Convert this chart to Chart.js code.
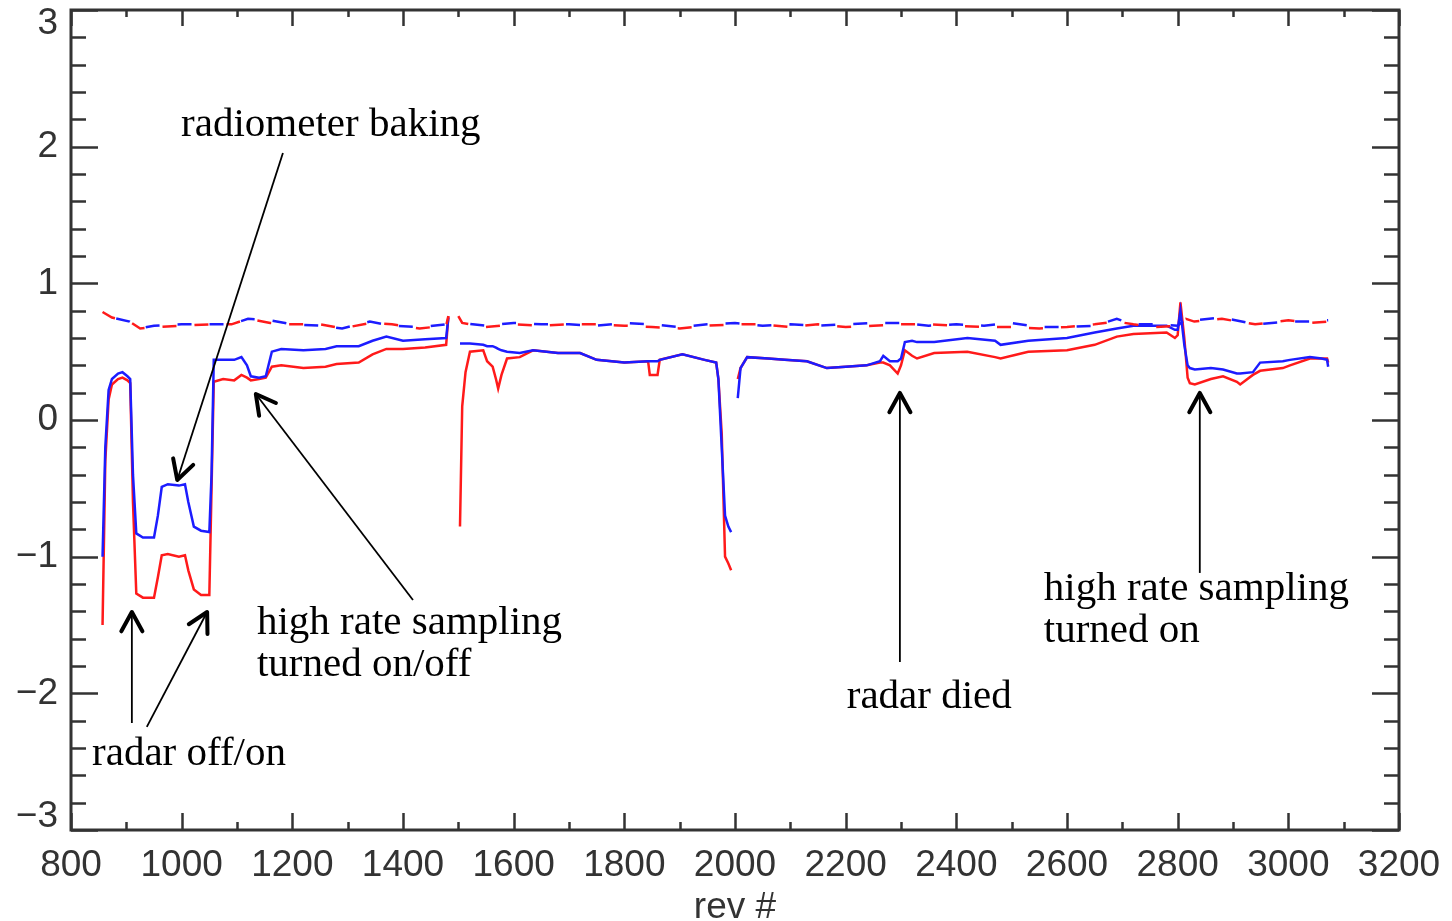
<!DOCTYPE html>
<html>
<head>
<meta charset="utf-8">
<script src="https://cdn.jsdelivr.net/npm/chart.js@4"></script>
<style>
  html, body { margin: 0; padding: 0; background: #fff; }
  #wrap { width: 1452px; height: 921px; }
</style>
</head>
<body>
<div id="wrap"><canvas id="grafico" width="1452" height="921"></canvas></div>
<script>
// lower (solid) curves, blue and red share the rev grid; null = data gap
var lowRev  = [857, 862, 868, 874, 885, 893, 902, 907, 912, 918, 930, 950, 957, 964, 975, 995, 1006, 1012, 1022, 1035, 1050, 1054, 1058, 1075, 1095, 1108, 1118, 1125, 1140, 1152, 1163, 1180, 1220, 1260, 1280, 1320, 1345, 1370, 1400, 1440, 1478, 1482,
               1490,
               1503, 1507, 1513, 1521, 1545, 1552, 1562, 1568, 1572, 1578, 1588, 1611, 1635, 1680, 1720, 1750, 1800, 1843, 1846, 1860, 1864, 1905, 1945, 1966, 1970, 1976, 1982, 1988, 1993,
               1997,
               2005, 2010, 2022, 2060, 2090, 2130, 2166, 2200, 2238, 2262, 2268, 2280, 2294, 2300, 2307, 2320, 2329, 2360, 2420, 2470, 2480, 2530, 2600, 2650, 2690, 2720, 2780, 2795, 2800, 2805, 2812, 2818, 2822, 2831, 2860, 2882, 2907, 2913, 2936, 2949, 2990, 3003, 3039, 3060, 3070, 3072];
var lowBlue = [-1.00, -0.20, 0.22, 0.30, 0.34, 0.35, 0.32, 0.30, -0.40, -0.83, -0.86, -0.86, -0.70, -0.49, -0.47, -0.48, -0.47, -0.60, -0.78, -0.81, -0.82, -0.40, 0.44, 0.44, 0.44, 0.46, 0.40, 0.32, 0.31, 0.32, 0.50, 0.52, 0.51, 0.52, 0.54, 0.54, 0.58, 0.61, 0.58, 0.59, 0.60, 0.75,
               null,
               0.56, 0.56, 0.56, 0.56, 0.55, 0.54, 0.54, 0.53, 0.52, 0.51, 0.50, 0.49, 0.51, 0.49, 0.49, 0.44, 0.42, 0.43, 0.43, 0.43, 0.44, 0.48, 0.44, 0.42, 0.30, -0.20, -0.70, -0.78, -0.82,
               null,
               0.16, 0.38, 0.46, 0.45, 0.44, 0.43, 0.38, 0.39, 0.40, 0.43, 0.47, 0.43, 0.43, 0.45, 0.57, 0.58, 0.57, 0.57, 0.60, 0.58, 0.55, 0.58, 0.60, 0.64, 0.67, 0.69, 0.69, 0.66, 0.66, 0.80, 0.55, 0.40, 0.38, 0.37, 0.38, 0.37, 0.34, 0.34, 0.35, 0.42, 0.43, 0.44, 0.46, 0.45, 0.44, 0.39];
var lowRed  = [-1.50, -0.30, 0.15, 0.26, 0.30, 0.31, 0.29, 0.27, -0.60, -1.27, -1.30, -1.30, -1.15, -0.99, -0.98, -1.00, -0.99, -1.10, -1.24, -1.28, -1.28, -0.50, 0.28, 0.30, 0.29, 0.33, 0.31, 0.29, 0.30, 0.31, 0.39, 0.40, 0.38, 0.39, 0.41, 0.42, 0.48, 0.52, 0.52, 0.53, 0.55, 0.76,
               null,
               -0.78, 0.10, 0.35, 0.50, 0.51, 0.43, 0.39, 0.30, 0.23, 0.33, 0.45, 0.46, 0.51, 0.49, 0.49, 0.44, 0.42, 0.43, 0.33, 0.33, 0.44, 0.48, 0.44, 0.42, 0.30, -0.10, -1.00, -1.05, -1.10,
               null,
               0.30, 0.38, 0.46, 0.45, 0.44, 0.43, 0.38, 0.39, 0.40, 0.42, 0.42, 0.40, 0.34, 0.40, 0.51, 0.47, 0.45, 0.49, 0.50, 0.46, 0.45, 0.50, 0.51, 0.55, 0.61, 0.63, 0.64, 0.60, 0.62, 0.86, 0.60, 0.31, 0.27, 0.26, 0.30, 0.32, 0.28, 0.26, 0.33, 0.36, 0.38, 0.40, 0.45, 0.45, 0.45, 0.42];

// upper (dashed) curves
var upRev  = [857, 874, 906, 925, 950, 1000, 1050, 1090, 1120, 1160, 1200, 1250, 1290, 1340, 1380, 1430, 1478, 1482,
              1490,
              1500, 1507, 1550, 1600, 1650, 1700, 1750, 1800, 1850, 1900, 1950, 2000, 2050, 2100, 2150, 2200, 2250, 2300, 2350, 2400, 2450, 2500, 2550, 2600, 2650, 2690, 2720, 2760, 2800, 2815, 2830, 2880, 2940, 3000, 3040, 3072];
var upBlue = [0.80, 0.75, 0.72, 0.67, 0.69, 0.70, 0.70, 0.70, 0.74, 0.73, 0.70, 0.69, 0.67, 0.72, 0.69, 0.68, 0.70, 0.75,
              null,
              0.76, 0.71, 0.69, 0.71, 0.70, 0.70, 0.69, 0.71, 0.70, 0.68, 0.70, 0.71, 0.69, 0.70, 0.69, 0.70, 0.71, 0.71, 0.69, 0.70, 0.69, 0.71, 0.68, 0.68, 0.69, 0.74, 0.70, 0.70, 0.69, 0.74, 0.73, 0.75, 0.70, 0.72, 0.72, 0.73];
var upRed  = [0.79, 0.75, 0.72, 0.67, 0.68, 0.69, 0.70, 0.70, 0.74, 0.71, 0.70, 0.70, 0.67, 0.71, 0.70, 0.67, 0.69, 0.76,
              null,
              0.76, 0.71, 0.68, 0.70, 0.69, 0.70, 0.70, 0.69, 0.68, 0.67, 0.69, 0.70, 0.70, 0.68, 0.70, 0.68, 0.69, 0.70, 0.70, 0.69, 0.68, 0.68, 0.67, 0.68, 0.70, 0.72, 0.70, 0.68, 0.69, 0.74, 0.72, 0.74, 0.70, 0.73, 0.71, 0.72];

var xTicks = [800, 1000, 1200, 1400, 1600, 1800, 2000, 2200, 2400, 2600, 2800, 3000, 3200];
var yTicks = [-3, -2, -1, 0, 1, 2, 3];

var AZUL = '#1c1cff';
var VERMELHO = '#ff1a1a';
var fonteEixo = { family: '"Liberation Sans", Arimo, sans-serif', size: 37, weight: 'normal' };

function pontos(revs, vals){
    return revs.map(function(r, i){ return { x: r, y: vals[i] }; });
}

// frame with inward ticks on all four sides + y labels
var moldura = {
    id: 'moldura',
    afterDraw(chart){
        const { ctx, chartArea: { top, bottom, left, right } } = chart;
        const sx = chart.scales.x, sy = chart.scales.y;
        ctx.save();
        ctx.strokeStyle = '#333';
        ctx.lineWidth = 3;
        ctx.strokeRect(left, top, right - left, bottom - top);
        ctx.lineWidth = 2.5;
        ctx.beginPath();
        for (let v = 800; v <= 3200; v += 100){
            const px = Math.round(sx.getPixelForValue(v)) + 0.5;
            const maior = v % 200 === 0;
            ctx.moveTo(px, bottom); ctx.lineTo(px, bottom - (maior ? 17 : 8));
            ctx.moveTo(px, top); ctx.lineTo(px, top + (maior ? 16 : 7));
        }
        for (let i = -15; i <= 15; i++){
            const v = i / 5;
            const py = Math.round(sy.getPixelForValue(v)) + 0.5;
            const maior = i % 5 === 0;
            ctx.moveTo(left, py); ctx.lineTo(left + (maior ? 27 : 15), py);
            ctx.moveTo(right, py); ctx.lineTo(right - (maior ? 27 : 15), py);
        }
        ctx.stroke();

        ctx.fillStyle = '#333';
        ctx.font = fonteEixo.size + 'px ' + fonteEixo.family;
        ctx.textAlign = 'right';
        ctx.textBaseline = 'middle';
        yTicks.forEach(function(v){
            let py = sy.getPixelForValue(v);
            py = Math.min(Math.max(py, top + 14), bottom - 13);
            const txt = v < 0 ? '\u2212' + Math.abs(v) : String(v);
            ctx.fillText(txt, left - 13, py);
        });
        ctx.restore();
    }
};

// annotation texts and arrows, anchored in data coordinates
var notas = {
    id: 'notas',
    afterDraw(chart, args, options){
        const { ctx } = chart;
        const sx = chart.scales.x, sy = chart.scales.y;
        ctx.save();
        ctx.fillStyle = '#000';
        ctx.strokeStyle = '#000';
        ctx.font = '41px "Liberation Serif", "Times New Roman", serif';
        ctx.textAlign = 'left';
        ctx.textBaseline = 'alphabetic';
        options.textos.forEach(function(t){
            const x = sx.getPixelForValue(t.x), y = sy.getPixelForValue(t.y);
            t.linhas.forEach(function(l, k){ ctx.fillText(l, x, y + k * 42); });
        });
        options.setas.forEach(function(s){
            const x0 = sx.getPixelForValue(s.de[0]), y0 = sy.getPixelForValue(s.de[1]);
            const x1 = sx.getPixelForValue(s.para[0]), y1 = sy.getPixelForValue(s.para[1]);
            ctx.lineWidth = 1.8;
            ctx.lineCap = 'butt';
            ctx.beginPath(); ctx.moveTo(x0, y0); ctx.lineTo(x1, y1); ctx.stroke();
            const ang = Math.atan2(y0 - y1, x0 - x1);
            const L = 22, a = 0.5;
            ctx.lineWidth = 4;
            ctx.lineCap = 'round';
            ctx.lineJoin = 'round';
            ctx.beginPath();
            ctx.moveTo(x1 + L * Math.cos(ang + a), y1 + L * Math.sin(ang + a));
            ctx.lineTo(x1, y1);
            ctx.lineTo(x1 + L * Math.cos(ang - a), y1 + L * Math.sin(ang - a));
            ctx.stroke();
        });
        ctx.restore();
    }
};

var config = {
    type: 'line',
    data: {
        datasets: [
            { data: pontos(upRev, upRed), borderColor: VERMELHO, borderWidth: 2.5, borderDash: [14, 18], borderDashOffset: 0, pointRadius: 0, tension: 0 },
            { data: pontos(upRev, upBlue), borderColor: AZUL, borderWidth: 2.5, borderDash: [14, 18], borderDashOffset: 16, pointRadius: 0, tension: 0 },
            { data: pontos(lowRev, lowBlue), borderColor: AZUL, borderWidth: 2.5, pointRadius: 0, tension: 0 },
            { data: pontos(lowRev, lowRed), borderColor: VERMELHO, borderWidth: 2.5, pointRadius: 0, tension: 0 }
        ]
    },
    options: {
        responsive: false,
        animation: false,
        layout: { padding: { left: 0, right: 53, top: 10, bottom: 0 } },
        plugins: {
            legend: { display: false },
            tooltip: { enabled: false },
            notas: {
                textos: [
                    { x: 999, y: 2.078, linhas: ['radiometer baking'] },
                    { x: 1136, y: -1.566, linhas: ['high rate sampling', 'turned on/off'] },
                    { x: 838, y: -2.524, linhas: ['radar off/on'] },
                    { x: 2202, y: -2.107, linhas: ['radar died'] },
                    { x: 2558, y: -1.317, linhas: ['high rate sampling', 'turned on'] }
                ],
                setas: [
                    { de: [1183, 1.954], para: [992, -0.439] },
                    { de: [1418, -1.317], para: [1134, 0.19] },
                    { de: [910, -2.217], para: [910, -1.405] },
                    { de: [937, -2.246], para: [1046, -1.405] },
                    { de: [2298, -1.771], para: [2298, 0.198] },
                    { de: [2840, -1.119], para: [2840, 0.198] }
                ]
            }
        },
        scales: {
            x: {
                type: 'linear', min: 800, max: 3200,
                afterBuildTicks: function(s){ s.ticks = xTicks.map(function(v){ return { value: v }; }); },
                ticks: { font: fonteEixo, color: '#333', padding: 14, maxRotation: 0, autoSkip: false,
                         callback: function(v){ return String(v); } },
                grid: { display: false, drawTicks: false },
                border: { display: false },
                title: { display: true, text: 'rev #', font: fonteEixo, color: '#333', padding: { top: 0, bottom: -9 } },
                afterFit: function(s){ s.height = 91; s.paddingLeft = 0; s.paddingRight = 0; }
            },
            y: {
                type: 'linear', min: -3, max: 3,
                ticks: { display: false },
                grid: { display: false, drawTicks: false },
                border: { display: false },
                afterFit: function(s){ s.width = 71; }
            }
        }
    },
    plugins: [moldura, notas]
};

var grafico = new Chart(document.getElementById('grafico'), config);
</script>
</body>
</html>
